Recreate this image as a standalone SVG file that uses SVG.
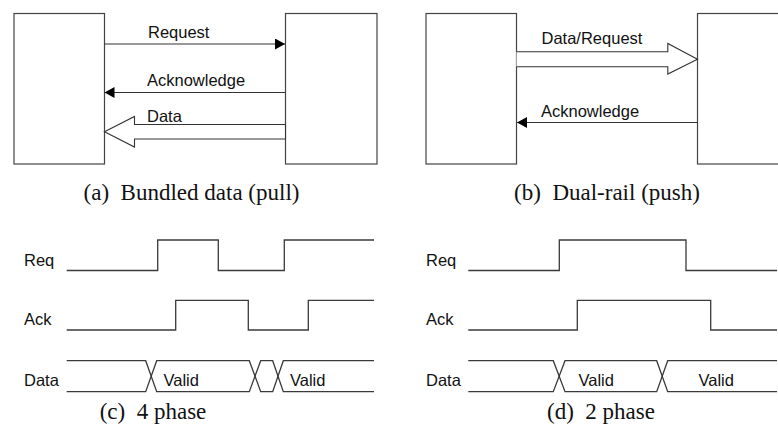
<svg xmlns="http://www.w3.org/2000/svg" width="778" height="435" viewBox="0 0 778 435">
  <style>
    .box { fill: #ffffff; stroke: #444444; stroke-width: 1.2; }
    .wire { fill: none; stroke: #333333; stroke-width: 1.2; }
    .bus { fill: #ffffff; stroke: #333333; stroke-width: 1.1; stroke-linejoin: miter; }
    .wave { fill: none; stroke: #3a3a3a; stroke-width: 1.3; }
    .lbl { font-family: "Liberation Sans", Arial, sans-serif; font-size: 16.5px; fill: #111111; }
    .cap { font-family: "Liberation Serif", "Times New Roman", serif; font-size: 23px; fill: #111111; }
  </style>
  <defs>
    <marker id="head" viewBox="0 0 10 11" refX="10" refY="5.5" markerWidth="10" markerHeight="11" markerUnits="userSpaceOnUse" orient="auto">
      <path d="M0,0 L10,5.5 L0,11 Z" fill="#000000"/>
    </marker>
  </defs>

  <rect width="778" height="435" fill="#ffffff"/>

  <!-- (a) bundled data, pull -->
  <g id="a-sender"><rect class="box" x="14" y="13.5" width="90.5" height="150.5"/></g>
  <g id="a-receiver"><rect class="box" x="285.5" y="13.5" width="91.5" height="150.5"/></g>
  <g id="a-connectors">
    <line class="wire" x1="104.5" y1="44" x2="285" y2="44" marker-end="url(#head)"/>
    <line class="wire" x1="285.5" y1="92.5" x2="104.5" y2="92.5" marker-end="url(#head)"/>
    <path class="bus" d="M285.5,124.5 L134.5,124.5 L134.5,116.5 L104.5,131.8 L134.5,147 L134.5,139 L285.5,139 Z"/>
  </g>
  <g id="a-labels">
    <text class="lbl" x="148" y="38">Request</text>
    <text class="lbl" x="147" y="86">Acknowledge</text>
    <text class="lbl" x="147" y="122">Data</text>
  </g>
  <text class="cap" x="191.5" y="200" text-anchor="middle" xml:space="preserve">(a)  Bundled data (pull)</text>

  <!-- (b) dual-rail, push -->
  <g id="b-sender"><rect class="box" x="426" y="13.5" width="90.5" height="150.5"/></g>
  <g id="b-receiver"><rect class="box" x="697.5" y="13.5" width="100" height="150.5"/></g>
  <g id="b-connectors">
    <path class="bus" d="M516.5,51.8 L667.8,51.8 L667.8,43.5 L697.5,59.3 L667.8,74 L667.8,66.7 L516.5,66.7"/>
    <line class="wire" x1="697.5" y1="122.5" x2="517" y2="122.5" marker-end="url(#head)"/>
  </g>
  <g id="b-labels">
    <text class="lbl" x="541.5" y="44">Data/Request</text>
    <text class="lbl" x="541" y="117">Acknowledge</text>
  </g>
  <text class="cap" x="607" y="200" text-anchor="middle" xml:space="preserve">(b)  Dual-rail (push)</text>

  <!-- (c) four-phase handshake -->
  <g id="c-req">
    <text class="lbl" x="24" y="266">Req</text>
    <path class="wave" d="M66.7,270.5 H157.7 V240 H218.3 V270.5 H284.3 V240 H374"/>
  </g>
  <g id="c-ack">
    <text class="lbl" x="24" y="325">Ack</text>
    <path class="wave" d="M66.7,330 H175.7 V300.3 H248.3 V330 H308.3 V300.3 H374"/>
  </g>
  <g id="c-data">
    <text class="lbl" x="24" y="386">Data</text>
    <path class="wave" d="M66.7,360.7 H145.7 L156.7,391.7 H249.3 L260.7,360.7 H272.7 L283.3,391.7 H374"/>
    <path class="wave" d="M66.7,391.7 H145.7 L156.7,360.7 H249.3 L260.7,391.7 H272.7 L283.3,360.7 H374"/>
    <text class="lbl" x="163.5" y="386">Valid</text>
    <text class="lbl" x="290" y="386">Valid</text>
  </g>
  <text class="cap" x="153" y="419" text-anchor="middle" xml:space="preserve">(c)  4 phase</text>

  <!-- (d) two-phase handshake -->
  <g id="d-req">
    <text class="lbl" x="426" y="266">Req</text>
    <path class="wave" d="M468.3,270.5 H559.3 V240 H686 V270.5 H777"/>
  </g>
  <g id="d-ack">
    <text class="lbl" x="426" y="325">Ack</text>
    <path class="wave" d="M468.3,330 H577.3 V300.3 H710.7 V330 H777"/>
  </g>
  <g id="d-data">
    <text class="lbl" x="426" y="386">Data</text>
    <path class="wave" d="M468.3,360.7 H553.3 L565,391.7 H656.7 L667.7,360.7 H777"/>
    <path class="wave" d="M468.3,391.7 H553.3 L565,360.7 H656.7 L667.7,391.7 H777"/>
    <text class="lbl" x="578.5" y="386">Valid</text>
    <text class="lbl" x="698.5" y="386">Valid</text>
  </g>
  <text class="cap" x="601" y="419" text-anchor="middle" xml:space="preserve">(d)  2 phase</text>
</svg>
